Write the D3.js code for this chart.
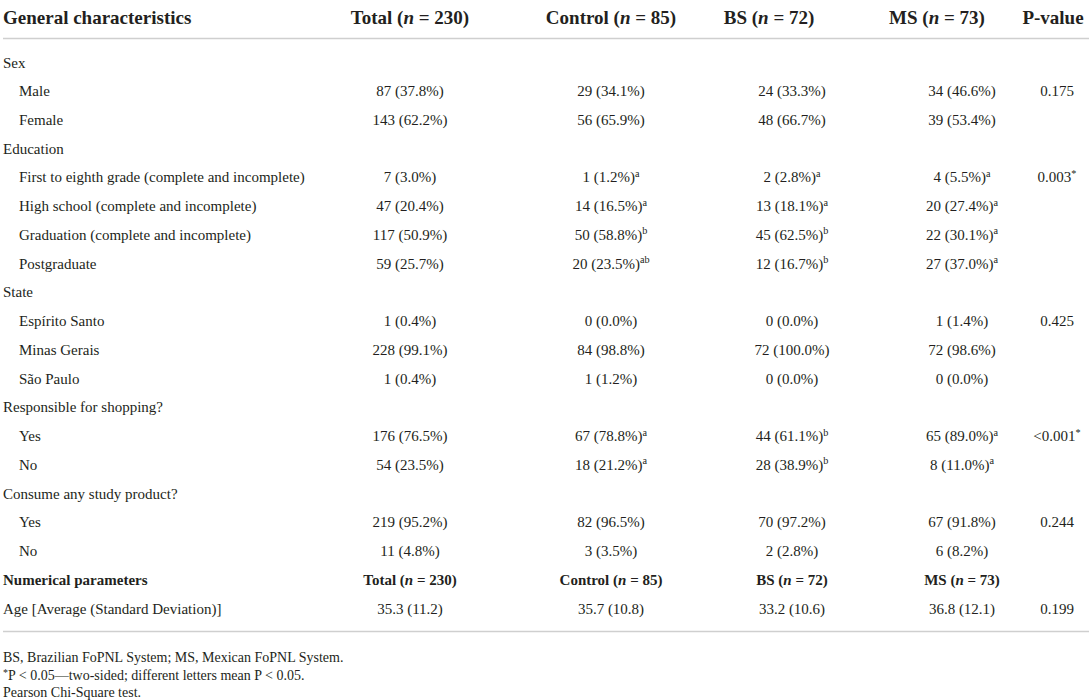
<!DOCTYPE html>
<html lang="en">
<head>
<meta charset="utf-8">
<script src="https://d3js.org/d3.v7.min.js"></script>
<style>
  body { margin: 0; background: #fff; }
  text { font-family: "Liberation Serif", "DejaVu Serif", serif; fill: #231f20; }
</style>
</head>
<body>
<div id="table"></div>
<script>
// row labels, kind: g = group heading, i = indented item, h = sub header
const rowLabels = ["Sex", "Male", "Female", "Education",
  "First to eighth grade (complete and incomplete)", "High school (complete and incomplete)",
  "Graduation (complete and incomplete)", "Postgraduate", "State", "Espírito Santo",
  "Minas Gerais", "São Paulo", "Responsible for shopping?", "Yes", "No",
  "Consume any study product?", "Yes", "No", "Numerical parameters",
  "Age [Average (Standard Deviation)]"];
const rowKind = ["g","i","i","g","i","i","i","i","g","i","i","i","g","i","i","g","i","i","h","n"];

const groups = ["Total", "Control", "BS", "MS"];
const groupN = [230, 85, 72, 73];

// "^" separates the superscript letters
const totalVals = ["", "87 (37.8%)", "143 (62.2%)", "", "7 (3.0%)", "47 (20.4%)", "117 (50.9%)",
  "59 (25.7%)", "", "1 (0.4%)", "228 (99.1%)", "1 (0.4%)", "", "176 (76.5%)", "54 (23.5%)", "",
  "219 (95.2%)", "11 (4.8%)", "", "35.3 (11.2)"];
const controlVals = ["", "29 (34.1%)", "56 (65.9%)", "", "1 (1.2%)^a", "14 (16.5%)^a", "50 (58.8%)^b",
  "20 (23.5%)^ab", "", "0 (0.0%)", "84 (98.8%)", "1 (1.2%)", "", "67 (78.8%)^a", "18 (21.2%)^a", "",
  "82 (96.5%)", "3 (3.5%)", "", "35.7 (10.8)"];
const bsVals = ["", "24 (33.3%)", "48 (66.7%)", "", "2 (2.8%)^a", "13 (18.1%)^a", "45 (62.5%)^b",
  "12 (16.7%)^b", "", "0 (0.0%)", "72 (100.0%)", "0 (0.0%)", "", "44 (61.1%)^b", "28 (38.9%)^b", "",
  "70 (97.2%)", "2 (2.8%)", "", "33.2 (10.6)"];
const msVals = ["", "34 (46.6%)", "39 (53.4%)", "", "4 (5.5%)^a", "20 (27.4%)^a", "22 (30.1%)^a",
  "27 (37.0%)^a", "", "1 (1.4%)", "72 (98.6%)", "0 (0.0%)", "", "65 (89.0%)^a", "8 (11.0%)^a", "",
  "67 (91.8%)", "6 (8.2%)", "", "36.8 (12.1)"];
const pVals = ["", "0.175", "", "", "0.003^*", "", "", "", "", "0.425", "", "", "", "<0.001^*", "",
  "", "0.244", "", "", "0.199"];

const footnotes = ["BS, Brazilian FoPNL System; MS, Mexican FoPNL System.",
  "^*P < 0.05—two-sided; different letters mean P < 0.05.",
  "Pearson Chi-Square test."];

const width = 1089, height = 700;
const bodySize = 15;

const svg = d3.select("#table")
  .append("svg")
    .attr("width", width)
    .attr("height", height);

svg.append("rect").attr("width", width).attr("height", height).attr("fill", "#fff");

const y = d3.scalePoint()
  .domain(d3.range(rowLabels.length))
  .range([67.5, 613.5]);

const colKeys = ["label", "Total", "Control", "BS", "MS", "P"];
const x = d3.scaleOrdinal()
  .domain(colKeys)
  .range([3, 410, 611, 792, 962, 1057]);
// the top header cells sit a little left of the value columns
const xHead = d3.scaleOrdinal()
  .domain(colKeys)
  .range([3, 410, 611, 769, 937, 1053]);

const cols = [totalVals, controlVals, bsVals, msVals];

// writes "text^sup" with a raised small superscript
function putText(sel, str, size) {
  const parts = str.split("^");
  sel.append("tspan").text(parts[0]);
  if (parts[1]) {
    sel.append("tspan")
      .attr("dy", -5.5)
      .style("font-size", (size * 0.68) + "px")
      .text(parts[1]);
  }
}

function headerLabel(sel, name, n) {
  sel.append("tspan").text(name + " (");
  sel.append("tspan").style("font-style", "italic").text("n");
  sel.append("tspan").text(" = " + n + ")");
}

// top header
const head = svg.append("g").style("font-weight", "bold").style("font-size", "19px");
head.append("text").attr("x", xHead("label")).attr("y", 23.5).text("General characteristics");
groups.forEach((g, i) => {
  head.append("text")
    .attr("x", xHead(g)).attr("y", 23.5)
    .attr("text-anchor", "middle")
    .call(headerLabel, g, groupN[i]);
});
head.append("text").attr("x", xHead("P")).attr("y", 23.5).attr("text-anchor", "middle").text("P-value");

svg.append("line")
  .attr("x1", 3).attr("x2", width).attr("y1", 38.5).attr("y2", 38.5)
  .attr("stroke", "#cfcfcf").attr("stroke-width", 1.5);

// body rows
const body = svg.append("g").style("font-size", bodySize + "px");
rowLabels.forEach((lab, r) => {
  const kind = rowKind[r];
  const t = body.append("text")
    .attr("x", x("label") + (kind === "i" ? 16 : 0))
    .attr("y", y(r))
    .text(lab);
  if (kind === "h") {
    t.style("font-weight", "bold");
    groups.forEach((g, i) => {
      body.append("text")
        .attr("x", x(g)).attr("y", y(r))
        .attr("text-anchor", "middle")
        .style("font-weight", "bold")
        .call(headerLabel, g, groupN[i]);
    });
    return;
  }
  cols.forEach((vals, i) => {
    if (!vals[r]) return;
    body.append("text")
      .attr("x", x(groups[i])).attr("y", y(r))
      .attr("text-anchor", "middle")
      .call(putText, vals[r], bodySize);
  });
  if (pVals[r]) {
    body.append("text")
      .attr("x", x("P")).attr("y", y(r))
      .attr("text-anchor", "middle")
      .call(putText, pVals[r], bodySize);
  }
});

svg.append("line")
  .attr("x1", 3).attr("x2", width).attr("y1", 631.5).attr("y2", 631.5)
  .attr("stroke", "#cfcfcf").attr("stroke-width", 1.5);

// footnotes
const foot = svg.append("g").style("font-size", "14px");
footnotes.forEach((f, i) => {
  const t = foot.append("text").attr("x", 3).attr("y", 662 + i * 17.5);
  if (f.startsWith("^")) {
    t.append("tspan").attr("dy", -4).style("font-size", "10px").text("*");
    t.append("tspan").attr("dy", 4).text(f.slice(2));
  } else {
    t.text(f);
  }
});
</script>
</body>
</html>
